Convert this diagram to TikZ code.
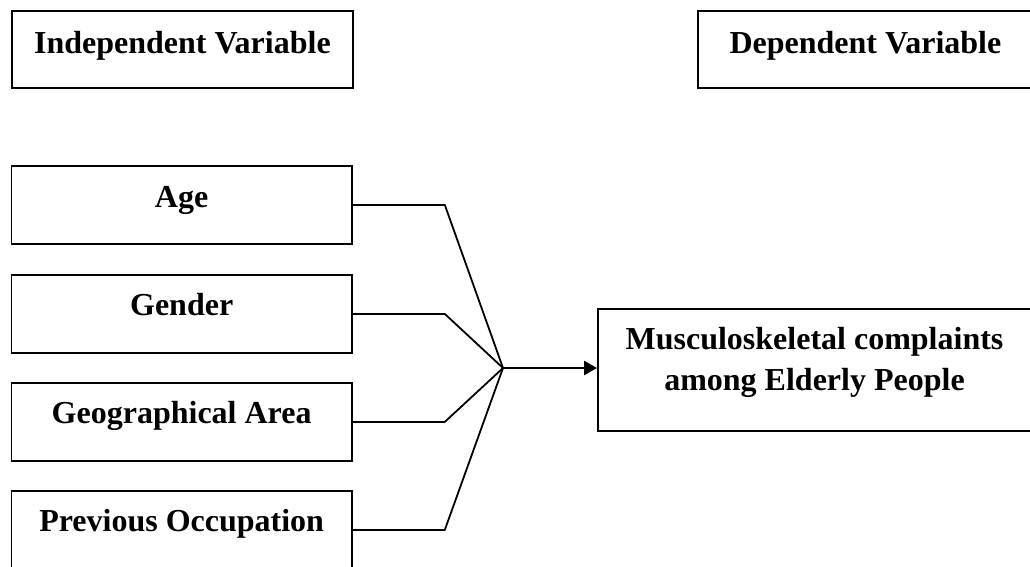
\documentclass[tikz,border=0pt]{standalone}
\usepackage{fontspec}
\setmainfont{Liberation Serif}
\usetikzlibrary{arrows.meta}
\begin{document}
\begin{tikzpicture}[x=1pt,y=-1pt,
  box/.style={draw, line width=1.8pt, inner sep=0pt, anchor=north west},
  lbl/.style={font=\fontsize{32}{41}\selectfont\bfseries, inner sep=0pt, anchor=base},
  conn/.style={line width=1.8pt},
  arr/.style={line width=2.8pt, -{Triangle[length=13pt,width=14pt]}}]
\useasboundingbox (0,0) rectangle (1030,566);
\clip (0,0) rectangle (1030,566);
% header boxes
\node[box, minimum width=341pt, minimum height=77pt] (ivbox) at (11,10) {};
\node[box, minimum width=335pt, minimum height=77pt] (dvbox) at (697,10) {};
\node[lbl] (ivtext) at ([yshift=-4.5pt]ivbox.center) {Independent Variable};
\node[lbl] (dvtext) at ([yshift=-4.5pt]dvbox.center) {Dependent Variable};
% independent variable boxes
\node[box, minimum width=340.5pt, minimum height=78pt] (age) at (10.5,165) {};
\node[box, minimum width=340.5pt, minimum height=78pt] (gender) at (10.5,274) {};
\node[box, minimum width=340.5pt, minimum height=78pt] (geo) at (10.5,382) {};
\node[box, minimum width=340.5pt, minimum height=78pt] (prev) at (10.5,490) {};
\node[lbl] (agetext) at ([yshift=-3pt]age.center) {Age};
\node[lbl] (gendertext) at ([yshift=-2pt]gender.center) {Gender};
\node[lbl] (geotext) at ([yshift=-2pt]geo.center) {Geographical Area};
\node[lbl] (prevtext) at ([yshift=-2pt]prev.center) {Previous Occupation};
% dependent box
\node[box, minimum width=435pt, minimum height=122pt] (mus) at (597,308) {};
\node[lbl] (mus1) at (814.5,349) {Musculoskeletal complaints};
\node[lbl] (mus2) at (814.5,390) {among Elderly People};
% connectors
\coordinate (J) at (503,368);
\draw[conn] (age.east) -- ++(92,0) -- (J);
\draw[conn] (gender.east) -- ++(92,0) -- (J);
\draw[conn] (geo.east) -- ++(92,0) -- (J);
\draw[conn] (prev.east) -- ++(92,0) -- (J);
\draw[arr] (J) -- (J -| mus.west);
\end{tikzpicture}
\end{document}
